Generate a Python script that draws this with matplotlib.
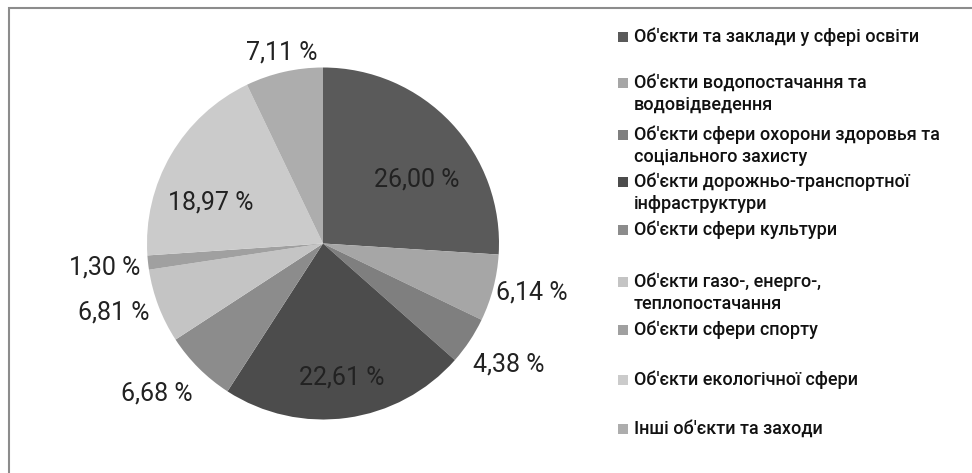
import numpy as np
import matplotlib.pyplot as plt
from matplotlib.patches import Rectangle

# data
categories = [
    "Об'єкти та заклади у сфері освіти",
    "Об'єкти водопостачання та\nводовідведення",
    "Об'єкти сфери охорони здоровья та\nсоціального захисту",
    "Об'єкти дорожньо-транспортної\nінфраструктури",
    "Об'єкти сфери культури",
    "Об'єкти газо-, енерго-,\nтеплопостачання",
    "Об'єкти сфери спорту",
    "Об'єкти екологічної сфери",
    "Інші об'єкти та заходи",
]
shares = [26.00, 6.14, 4.38, 22.61, 6.68, 6.81, 1.30, 18.97, 7.11]
colors = ['#5a5a5a', '#a6a6a6', '#7f7f7f', '#4c4c4c', '#8c8c8c',
          '#c4c4c4', '#a0a0a0', '#cbcbcb', '#adadad']

# label placement (radius units, degrees shift from slice bisector)
label_r = [0.645, 1.22, 1.26, 0.77, 1.27, 1.25, 1.25, 0.68, 1.11]
label_shift = [-9, 1.5, 0.5, 0, -3, -2.5, 0, 10, -0.5]

# legend first-line centres, px from top
legend_y = [37, 83, 135, 182, 230, 282, 330, 380, 429]

W, H = 972, 473
plt.rcParams['font.family'] = ['Roboto', 'DejaVu Sans']
fig = plt.figure(figsize=(W / 100, H / 100), dpi=100)

# outer frame (right and bottom edges fall outside the picture)
fig.patches.append(Rectangle((9 / W, -0.1), 2, 1.1 - 8 / H, transform=fig.transFigure,
                             fill=False, edgecolor='#8c8c8c', linewidth=1.5))

cx, cy, r = 323, 243.5, 176
ax = fig.add_axes([(cx - r) / W, (H - cy - r) / H, 2 * r / W, 2 * r / H])
wedges, _ = ax.pie(shares, colors=colors, startangle=90, counterclock=False,
                   radius=1, wedgeprops=dict(linewidth=0))
ax.set_xlim(-1, 1)
ax.set_ylim(-1, 1)
ax.axis('off')

for w, v, lr, sh in zip(wedges, shares, label_r, label_shift):
    ang = np.deg2rad((w.theta1 + w.theta2) / 2 + sh)
    txt = f"{v:.2f}".replace('.', ',') + " %"
    ax.text(lr * np.cos(ang), lr * np.sin(ang), txt, ha='center', va='center',
            fontsize=18, color='#222222', clip_on=False)

# legend
for lab, col, y in zip(categories, colors, legend_y):
    fig.patches.append(Rectangle((618 / W, 1 - (y + 5) / H), 10 / W, 10 / H,
                                 transform=fig.transFigure, facecolor=col,
                                 edgecolor='none'))
    for j, line in enumerate(lab.split('\n')):
        fig.text(634 / W, 1 - (y + 22 * j) / H, line, ha='left', va='center',
                 fontsize=13, fontweight='medium', color='#111111')

fig.savefig('out.png', dpi=100)
